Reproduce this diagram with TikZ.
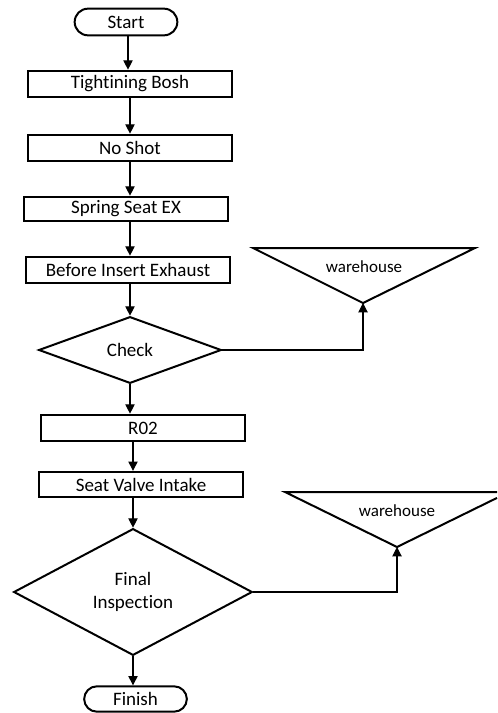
\documentclass[tikz,border=0pt]{standalone}
\usepackage{fontspec}
\setmainfont{Carlito}[Ligatures=NoCommon]
\usetikzlibrary{arrows.meta,shapes.geometric,shapes.misc}

\begin{document}
\begin{tikzpicture}[
  x=0.75pt, y=-0.75pt,
  >={Triangle[length=7pt,width=7pt]},
  every node/.style={font=\fontsize{14.25}{17.5}\selectfont},
  proc/.style={rectangle, draw, line width=1.5pt, minimum width=153pt, minimum height=20pt, inner sep=0pt},
  term/.style={rounded rectangle, draw, line width=1.5pt, minimum width=77pt, minimum height=20pt, inner sep=0pt},
  decision/.style={diamond, draw, line width=1.5pt, inner sep=0pt, align=center},
  store/.style={line width=1.5pt, line join=miter},
  storetext/.style={font=\fontsize{12.75}{15}\selectfont},
  flow/.style={->, line width=0.8pt}
]
  \useasboundingbox (0,0) rectangle (497,713);

  \node[term] (start) at (126,22) {Start};
  \node[proc] (tight) at (130,84) {Tightining Bosh};
  \node[proc] (noshot) at (130,148) {No Shot};
  \node[proc, minimum height=18.5pt] (spring) at (126,209) {Spring Seat EX};
  \node[proc] (before) at (128,270) {Before Insert Exhaust};
  \node[decision, minimum width=137pt, minimum height=50pt, aspect=2.7] (check) at (130,350) {Check};
  \node[proc] (r02) at (143,428) {R02};
  \node[proc, minimum height=19pt] (seat) at (141,484.5) {Seat Valve Intake};
  \node[decision, minimum width=179pt, minimum height=95pt, aspect=1.9] (final) at (133,592) {Final\\Inspection};
  \node[term, minimum height=19pt] (finish) at (135.5,699) {Finish};

  % warehouse after check
  \draw[store] (253,248) -- (475,248) -- (363,303) -- cycle;
  \node[storetext] (wh1) at (364,267) {warehouse};
  \coordinate (wh1tip) at (363,303);

  % warehouse after final inspection (cut at the right edge)
  \draw[store] (497,497.9) -- (397,547) -- (285,492) -- (497,492);
  \node[storetext] (wh2) at (397,511) {warehouse};
  \coordinate (wh2tip) at (397,547);

  \draw[flow] (start.south -| before.north) -- (tight.north -| before.north);
  \draw[flow] (tight.south) -- (tight.south |- noshot.north);
  \draw[flow] (noshot.south) -- (noshot.south |- spring.north);
  \draw[flow] (spring.south -| noshot.south) -- (before.north -| noshot.south);
  \draw[flow] (before.south -| check.north) -- (check.north);
  \draw[flow] (check.south) -- (check.south |- r02.north);
  \draw[flow] (r02.south -| final.north) -- (seat.north -| final.north);
  \draw[flow] (seat.south -| final.north) -- (final.north);
  \draw[flow] (final.south) -- (final.south |- finish.north);

  \draw[flow] (check.east) -| (wh1tip);
  \draw[flow] (final.east) -| (wh2tip);
\end{tikzpicture}
\end{document}
